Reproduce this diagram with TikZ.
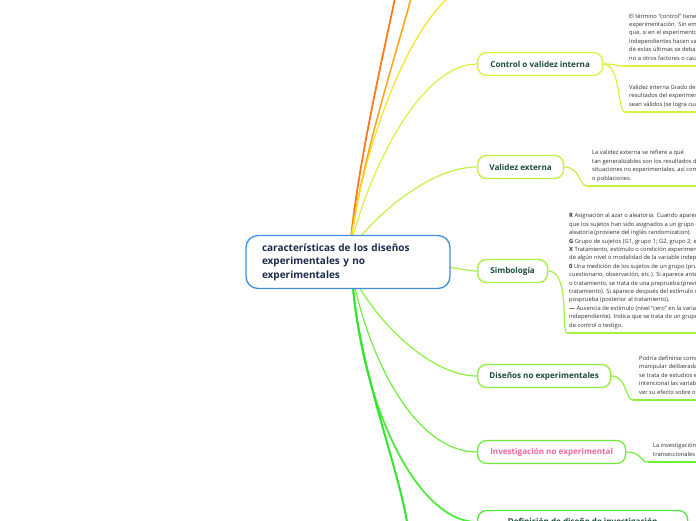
\documentclass[tikz,border=0pt]{standalone}
\usepackage{fontspec}
\setmainfont{Open Sans}

\definecolor{hubblue}{HTML}{3D8FE0}
\definecolor{hubtext}{HTML}{1C2B4A}
\definecolor{labeltext}{HTML}{1D4B3B}
\definecolor{bodytext}{HTML}{2E2E2E}
\definecolor{pinklabel}{HTML}{F0699A}
\definecolor{topa}{HTML}{FF7A1A}
\definecolor{topb}{HTML}{FFA51F}
\definecolor{topc}{HTML}{F2E41E}
\definecolor{ctrlc}{HTML}{DCEF3C}
\definecolor{extc}{HTML}{C2F042}
\definecolor{simc}{HTML}{A6F040}
\definecolor{disc}{HTML}{8CF03E}
\definecolor{invc}{HTML}{6EEE3C}
\definecolor{defc}{HTML}{4DEB3A}
\definecolor{botc}{HTML}{2EE62E}

\tikzset{
  topic/.style={draw, rounded corners=9pt, line width=1.3pt, fill=white, anchor=west,
    inner xsep=0pt, minimum height=23pt, text=labeltext,
    font=\bfseries\fontsize{8.1}{10}\selectfont},
  note/.style={anchor=base west, inner sep=0pt, align=left, text=bodytext,
    font=\fontsize{5.8}{8.4}\selectfont},
  link/.style={line width=1.2pt},
  uline/.style={line width=2.2pt}
}

\begin{document}
\begin{tikzpicture}[x=1pt, y=-1pt]
  \useasboundingbox (0,0) rectangle (696,520);
  \clip (0,0) rectangle (696,520);

  \node[topic, draw=ctrlc, minimum width=125pt] (ctrl) at (477,64) {Control o validez interna};
  \node[topic, draw=extc, minimum width=86pt] (ext) at (477,167) {Validez externa};
  \node[topic, draw=simc, minimum width=70pt] (sim) at (477,271) {Simbología};
  \node[topic, draw=disc, minimum width=133pt] (dis) at (477,376) {Diseños no experimentales};
  \node[topic, draw=invc, minimum width=148pt, text=pinklabel] (inv) at (477,452) {Investigación no experimental};
  \node[topic, draw=defc, minimum width=210pt] (def) at (477,522) {Definición de diseño de investigación};

  \node[note] (ctrl-a) at (629,60) {El término “control” tiene diversas connotaciones dentro de la\\
    experimentación. Sin embargo, su acepción más común es\\
    que, si en el experimento se observa que una o más variables\\
    independientes hacen variar a las dependientes, la variación\\
    de estas últimas se deba a la manipulación de las independientes\\
    no a otros factores o causas.};
  \node[note] (ctrl-b) at (629,106) {Validez interna Grado de confianza que se tiene de que los\\
    resultados del experimento se interpreten adecuadamente y\\
    sean válidos (se logra cuando hay control).};
  \node[note] (ext-a) at (592,180) {La validez externa se refiere a qué\\
    tan generalizables son los resultados de un experimento a\\
    situaciones no experimentales, así como a otros participantes\\
    o poblaciones.};
  \node[note] (sim-a) at (569,327) {\textbf{R} Asignación al azar o aleatoria. Cuando aparece quiere decir\\
    que los sujetos han sido asignados a un grupo de manera\\
    aleatoria (proviene del inglés randomization).\\
    \textbf{G} Grupo de sujetos (G1, grupo 1; G2, grupo 2; etcétera).\\
    \textbf{X} Tratamiento, estímulo o condición experimental (presencia\\
    de algún nivel o modalidad de la variable independiente).\\
    \textbf{0} Una medición de los sujetos de un grupo (prueba,\\
    cuestionario, observación, etc.). Si aparece antes del estímulo\\
    o tratamiento, se trata de una preprueba (previa al\\
    tratamiento). Si aparece después del estímulo se trata de una\\
    posprueba (posterior al tratamiento).\\
    \textbf{—} Ausencia de estímulo (nivel “cero” en la variable\\
    independiente). Indica que se trata de un grupo\\
    de control o testigo.};
  \node[note] (dis-a) at (639,394) {Podría definirse como la investigación\\
    manipular deliberadamente variables.\\
    se trata de estudios en los que no\\
    intencional las variables independientes\\
    ver su efecto sobre otras variables.};
  \node[note] (inv-a) at (653,456) {La investigación no experimental\\
    transeccionales y longitudinales};

  \coordinate (ctrl-a-ul) at (625,66);
  \coordinate (ctrl-b-ul) at (625,112);
  \coordinate (ext-a-ul) at (587,186);
  \coordinate (sim-a-ul) at (567,333);
  \coordinate (dis-a-ul) at (633,400);
  \coordinate (inv-a-ul) at (648,462);

  \draw[link, ctrlc] (ctrl.east) .. controls +(14,0) and +(-10,0) .. (ctrl-a-ul);
  \draw[link, ctrlc] (ctrl.east) .. controls +(18,0) and +(-8,0) .. (ctrl-b-ul);
  \draw[link, extc] (ext.east) .. controls +(16,0) and +(-8,0) .. (ext-a-ul);
  \draw[link, simc] (sim.east) .. controls +(22,0) and +(-6,0) .. (sim-a-ul);
  \draw[link, disc] (dis.east) .. controls +(16,0) and +(-8,0) .. (dis-a-ul);
  \draw[link, invc] (inv.east) .. controls +(16,0) and +(-8,0) .. (inv-a-ul);

  \draw[uline, ctrlc] (ctrl-a-ul) -- ++(80,0);
  \draw[uline, ctrlc] (ctrl-b-ul) -- ++(80,0);
  \draw[uline, extc] (ext-a-ul) -- ++(120,0);
  \draw[uline, simc] (sim-a-ul) -- ++(140,0);
  \draw[uline, disc] (dis-a-ul) -- ++(80,0);
  \draw[uline, invc] (inv-a-ul) -- ++(60,0);

  \coordinate (hub-up) at (350,250);
  \coordinate (hub-dn) at (352,274);
  \coordinate (top-a) at (395,-2);
  \coordinate (top-b) at (411,-2);
  \coordinate (top-c) at (477,-15);
  \coordinate (bot-a) at (407,522);

  \draw[link, topa, line width=1.8pt] (hub-up) .. controls +(6,-80) and +(-8,40) .. (top-a);
  \draw[link, topb, line width=1.6pt] (hub-up) .. controls +(8,-80) and +(-10,40) .. (top-b);
  \draw[link, topc] (hub-up) .. controls +(10,-100) and +(-57,0) .. (top-c);
  \draw[link, ctrlc] (hub-up) .. controls +(12,-60) and +(-62,0) .. (ctrl.west);
  \draw[link, extc] (hub-up) .. controls +(25,-35) and +(-47,0) .. (ext.west);
  \draw[link, simc] (hub-up) .. controls +(70,10) and +(-15,0) .. (sim.west);
  \draw[link, disc] (hub-dn) .. controls +(25,50) and +(-45,0) .. (dis.west);
  \draw[link, invc] (hub-dn) .. controls +(18,90) and +(-60,0) .. (inv.west);
  \draw[link, defc, line width=1.8pt] (hub-dn) .. controls +(8,130) and +(-60,0) .. (def.west);
  \draw[link, botc, line width=2pt] (hub-dn) .. controls +(5,90) and +(-10,-60) .. (bot-a);

  \node[draw=hubblue, line width=1.3pt, fill=white, rounded corners=12pt,
    minimum width=204pt, minimum height=53pt, text width=172pt, align=left,
    text=hubtext, font=\bfseries\fontsize{10}{13.5}\selectfont]
    (c) at (348,262) {características de los diseños\\experimentales y no\\experimentales};
\end{tikzpicture}
\end{document}
